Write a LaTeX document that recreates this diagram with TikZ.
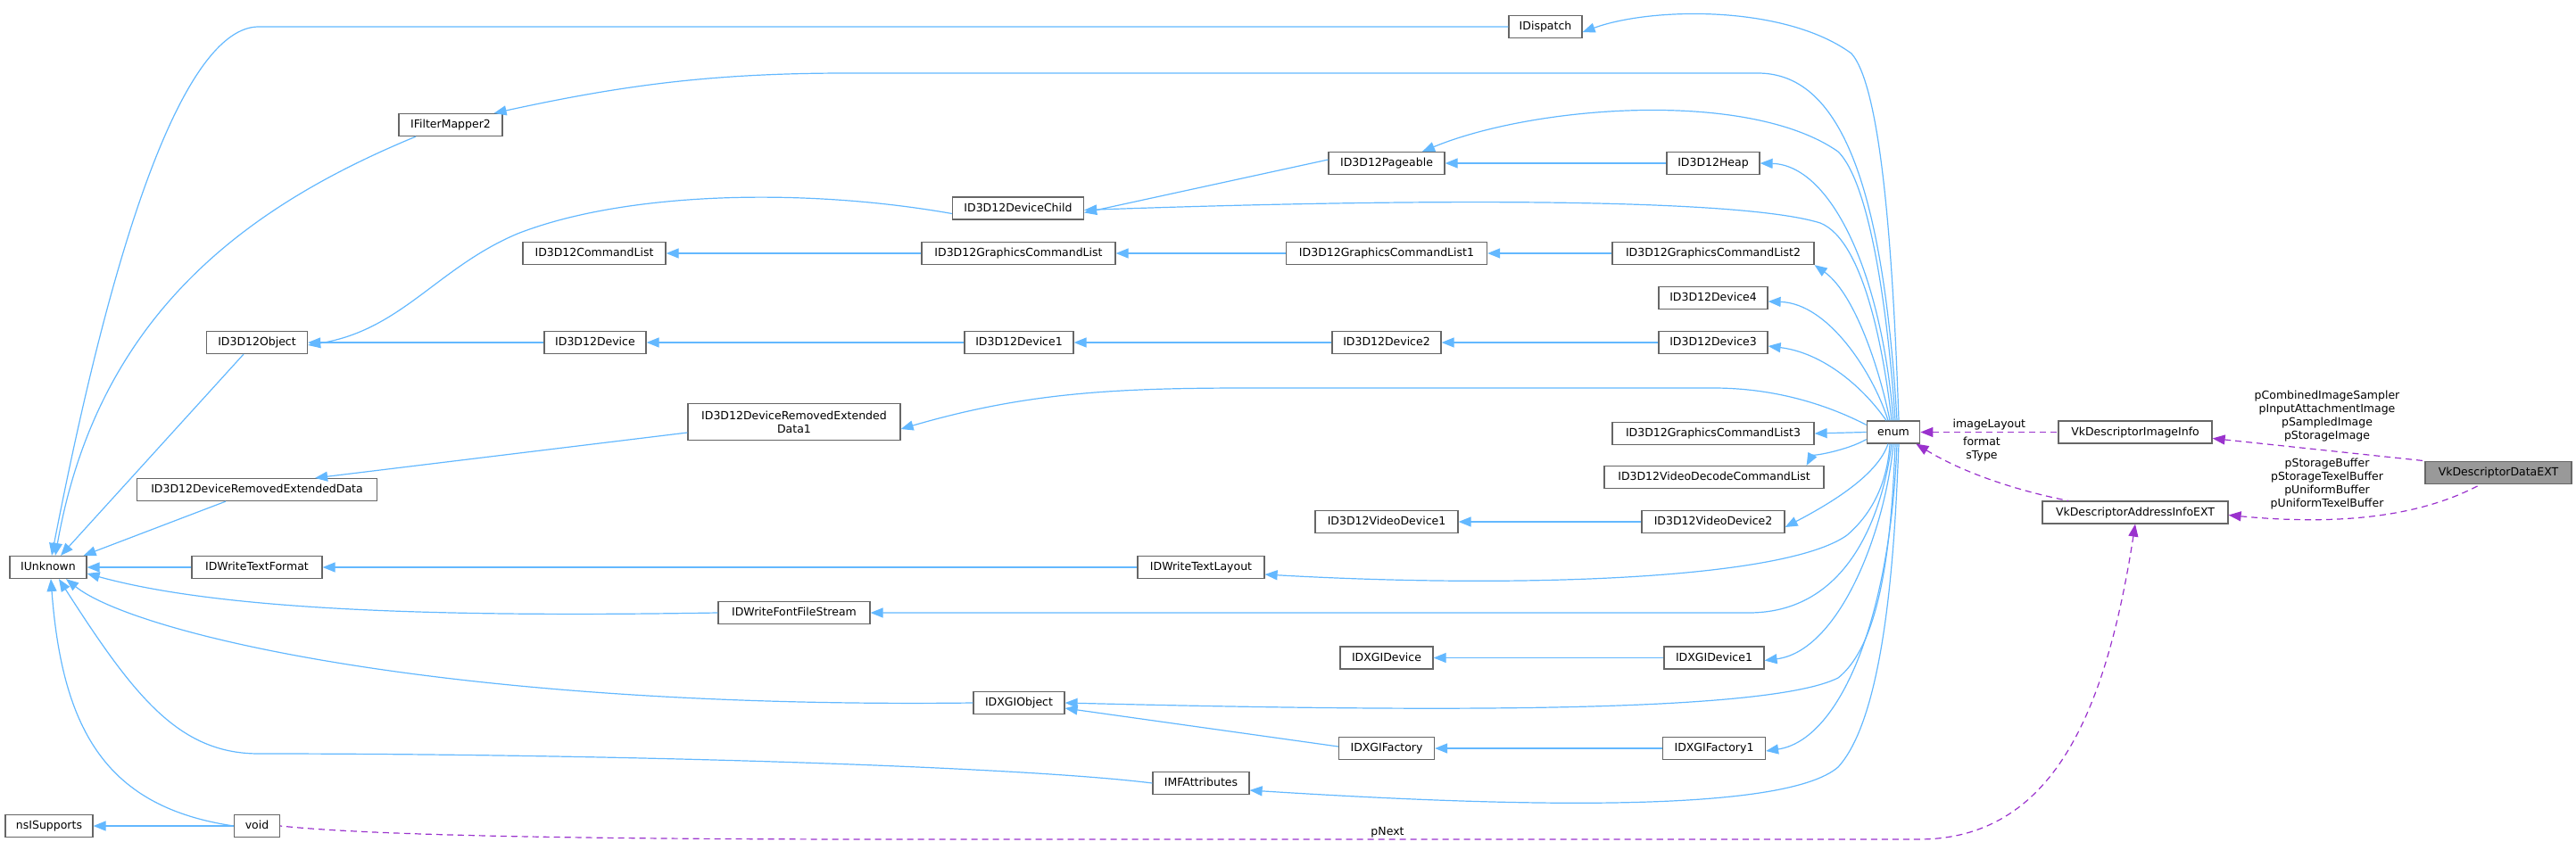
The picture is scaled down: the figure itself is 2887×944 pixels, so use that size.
\documentclass[tikz,border=0pt]{standalone}
\usepackage{fontspec}
\setmainfont{DejaVu Sans}
\usetikzlibrary{arrows.meta}
\definecolor{eb}{HTML}{63B8FF}
\definecolor{ep}{HTML}{9A32CD}
\definecolor{bd}{HTML}{666666}
\begin{document}
\begin{tikzpicture}[x=1pt,y=-1pt,
  font=\fontsize{12.5}{15}\selectfont,
  box/.style={draw=bd,line width=1.2pt,fill=white,inner xsep=3pt,inner ysep=0pt,minimum height=25pt,text height=9.5pt,text depth=2.5pt},
  inh/.style={draw=eb,line width=1.2pt,{Triangle[length=14pt,width=11pt]}-},
  use/.style={draw=ep,line width=1.2pt,dash pattern=on 7pt off 5pt,{Triangle[length=14pt,width=11pt]}-},
  lab/.style={align=center,inner sep=0pt,font=\fontsize{12.5}{15}\selectfont}]
\useasboundingbox (0,0) rectangle (2887,944);
% nodes
\node[box,minimum width=86] (IU) at (54,636) {IUnknown};
\node[box,minimum width=98] (NS) at (55,926) {nsISupports};
\node[box,minimum width=51] (VO) at (288,926) {void};
\node[box,minimum width=116] (FM) at (505,140) {IFilterMapper2};
\node[box,minimum width=113] (OB) at (288,384) {ID3D12Object};
\node[box,minimum width=269] (DR) at (288,549) {ID3D12DeviceRemovedExtendedData};
\node[box,minimum width=146] (TF) at (288,636) {IDWriteTextFormat};
\node[box,minimum width=160] (CL) at (666,284) {ID3D12CommandList};
\node[box,minimum width=114] (DV) at (667,384) {ID3D12Device};
\node[box,minimum width=238,minimum height=40.5,align=center,text height=,text depth=,inner ysep=3pt] (DR1) at (890,473) {ID3D12DeviceRemovedExtended\\Data1};
\node[box,minimum width=170] (FF) at (890,687) {IDWriteFontFileStream};
\node[box,minimum width=82] (DI) at (1732,30) {IDispatch};
\node[box,minimum width=130] (PG) at (1554,183) {ID3D12Pageable};
\node[box,minimum width=104] (HP) at (1920,183) {ID3D12Heap};
\node[box,minimum width=147] (DC) at (1141,233.5) {ID3D12DeviceChild};
\node[box,minimum width=217] (G0) at (1141.5,284) {ID3D12GraphicsCommandList};
\node[box,minimum width=225] (G1) at (1554,284) {ID3D12GraphicsCommandList1};
\node[box,minimum width=226] (G2) at (1920,284) {ID3D12GraphicsCommandList2};
\node[box,minimum width=122] (D4) at (1920,334) {ID3D12Device4};
\node[box,minimum width=122] (D1) at (1142,384) {ID3D12Device1};
\node[box,minimum width=122] (D2) at (1554,384) {ID3D12Device2};
\node[box,minimum width=122] (D3) at (1920,384) {ID3D12Device3};
\node[box,minimum width=226] (G3) at (1920,486) {ID3D12GraphicsCommandList3};
\node[box,minimum width=246] (VC) at (1921,535) {ID3D12VideoDecodeCommandList};
\node[box,minimum width=160] (V1) at (1554,585) {ID3D12VideoDevice1};
\node[box,minimum width=160] (V2) at (1920,585) {ID3D12VideoDevice2};
\node[box,minimum width=142] (TL) at (1346,636) {IDWriteTextLayout};
\node[box,minimum width=104] (XD) at (1554,737.5) {IDXGIDevice};
\node[box,minimum width=112] (XD1) at (1921,737.5) {IDXGIDevice1};
\node[box,minimum width=102] (XO) at (1142,788) {IDXGIObject};
\node[box,minimum width=107] (XF) at (1554,839) {IDXGIFactory};
\node[box,minimum width=115] (XF1) at (1921,839) {IDXGIFactory1};
\node[box,minimum width=108] (MF) at (1346,878) {IMFAttributes};
\node[box,minimum width=59.5] (EN) at (2122,484.5) {enum};
\node[box,minimum width=172] (VI) at (2393,484.5) {VkDescriptorImageInfo};
\node[box,minimum width=208] (VA) at (2393,574.5) {VkDescriptorAddressInfoEXT};
\node[box,minimum width=164,fill=black!40] (VD) at (2800,530) {VkDescriptorDataEXT};
% IUnknown edges
\draw[inh] ([xshift=4]IU.north) .. controls (140,200) and (220,30) .. (290,30) -- (DI.west);
\draw[inh] ([xshift=8]IU.north) .. controls (110,350) and (280,230) .. ([xshift=-39]FM.south);
\draw[inh] ([xshift=14]IU.north) -- ([xshift=-15]OB.south);
\draw[inh] ([xshift=-4]IU.north east) -- ([xshift=-35]DR.south);
\draw[inh] (IU.east) -- (TF.west);
\draw[inh] ([yshift=-7]IU.east) .. controls (250,685) and (500,692) .. (FF.west);
\draw[inh] ([xshift=20]IU.south) .. controls (150,710) and (500,795) .. (XO.west);
\draw[inh] ([xshift=12]IU.south) .. controls (150,780) and (200,845) .. (290,845) .. controls (700,845) and (1150,860) .. (MF.west);
\draw[inh] ([xshift=3]IU.south) .. controls (70,820) and (120,905) .. (VO.west);
\draw[inh] (NS.east) -- (VO.west);
% ID3D12 hierarchy
\draw[inh] ([yshift=-3]OB.east) .. controls (450,370) and (490,300) .. (580,262) .. controls (700,215) and (900,210) .. ([yshift=-6]DC.west);
\draw[inh] (OB.east) -- (DV.west);
\draw[inh] ([yshift=-5]DC.east) -- ([yshift=4]PG.west);
\draw[inh] (PG.east) -- (HP.west);
\draw[inh] (CL.east) -- (G0.west);
\draw[inh] (G0.east) -- (G1.west);
\draw[inh] (G1.east) -- (G2.west);
\draw[inh] (DV.east) -- (D1.west);
\draw[inh] (D1.east) -- (D2.west);
\draw[inh] (D2.east) -- (D3.west);
\draw[inh] ([xshift=-70]DR.north east) -- ([yshift=-12]DR1.west);
\draw[inh] (V1.east) -- (V2.west);
\draw[inh] (TF.east) -- (TL.west);
\draw[inh] (XD.east) -- (XD1.west);
\draw[inh] ([yshift=-6]XO.east) -- ([yshift=2]XF.west);
\draw[inh] (XF.east) -- (XF1.west);
% enum edges (up)
\draw[inh] ([yshift=-6]DI.east) .. controls (1850,8) and (2000,5) .. (2075,60) .. controls (2110,100) and (2122,300) .. ([xshift=6]EN.north);
\draw[inh] ([xshift=-10]FM.north east) .. controls (700,95) and (800,82) .. (950,82) -- (1970,82) .. controls (2060,82) and (2110,200) .. ([xshift=4]EN.north);
\draw[inh] ([xshift=40]PG.north) .. controls (1720,118) and (1960,100) .. (2060,170) .. controls (2100,210) and (2118,380) .. ([xshift=2]EN.north);
\draw[inh] (HP.east) .. controls (2050,185) and (2108,300) .. (EN.north);
\draw[inh] ([yshift=-2]DC.east) .. controls (1600,222) and (1950,222) .. (2040,250) .. controls (2090,270) and (2112,400) .. ([xshift=-2]EN.north);
\draw[inh] (G2.south east) .. controls (2080,330) and (2108,420) .. ([xshift=-4]EN.north);
\draw[inh] ([yshift=-4]D4.east) .. controls (2050,340) and (2100,420) .. ([xshift=-6]EN.north);
\draw[inh] ([yshift=-4]D3.east) .. controls (2040,395) and (2085,430) .. ([xshift=-8]EN.north);
\draw[inh] ([yshift=-8]DR1.east) .. controls (1150,440) and (1250,435) .. (1400,435) -- (1920,435) .. controls (2000,435) and (2060,460) .. ([yshift=-5]EN.north west);
\draw[inh] (G3.east) -- (EN.west);
% enum edges (down)
\draw[inh] ([xshift=-20]VC.north east) .. controls (2030,512) and (2070,505) .. ([yshift=5]EN.south west);
\draw[inh] ([yshift=-6]V2.east) .. controls (2060,560) and (2105,530) .. ([xshift=-6]EN.south);
\draw[inh] ([yshift=-8]TL.east) .. controls (1700,660) and (2000,650) .. (2070,600) .. controls (2105,570) and (2116,530) .. ([xshift=-4]EN.south);
\draw[inh] (FF.east) -- (1960,687) .. controls (2080,687) and (2112,560) .. ([xshift=-2]EN.south);
\draw[inh] ([yshift=-3]XD1.east) .. controls (2060,730) and (2112,600) .. (EN.south);
\draw[inh] (XO.east) .. controls (1600,798) and (1980,800) .. (2060,760) .. controls (2110,720) and (2120,600) .. ([xshift=2]EN.south);
\draw[inh] ([yshift=-3]XF1.east) .. controls (2060,830) and (2118,700) .. ([xshift=4]EN.south);
\draw[inh] ([yshift=-8]MF.east) .. controls (1700,905) and (2000,912) .. (2060,860) .. controls (2115,800) and (2124,600) .. ([xshift=6]EN.south);
% dashed usage edges
\draw[use] (EN.east) -- (VI.west) node[lab,midway,above=2pt] {imageLayout};
\draw[use] ([xshift=-5]EN.south east) .. controls (2200,530) and (2260,550) .. ([xshift=-75]VA.north);
\node[lab] (LFS) at (2221,504) {format\\sType};
\draw[use] ([yshift=-7]VI.east) -- ([xshift=2]VD.north west);
\node[lab] (L1) at (2608,467) {pCombinedImageSampler\\pInputAttachmentImage\\pSampledImage\\pStorageImage};
\draw[use] ([yshift=-3]VA.east) .. controls (2650,592) and (2730,570) .. ([xshift=-20]VD.south);
\node[lab] (L2) at (2608,543) {pStorageBuffer\\pStorageTexelBuffer\\pUniformBuffer\\pUniformTexelBuffer};
\draw[use] (VA.south) .. controls (2360,800) and (2300,941) .. (2150,941) -- (1000,941) .. controls (600,941) and (400,935) .. (VO.east);
\node[lab] (LP) at (1555,933) {pNext};
\end{tikzpicture}
\end{document}
